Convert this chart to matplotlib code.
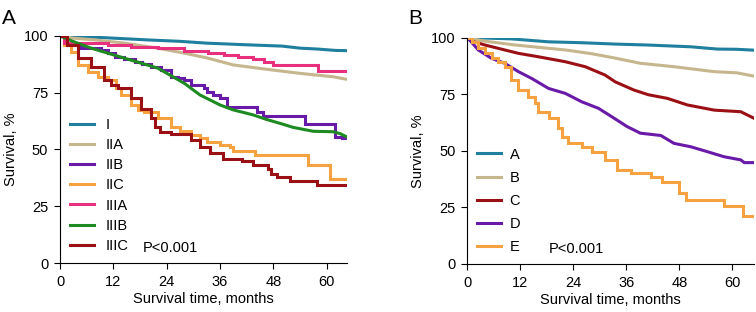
import matplotlib.pyplot as plt

plt.rcParams['font.family'] = ['Liberation Sans', 'DejaVu Sans']

# ---- panel A: stage groups ----
a_labels = ["I", "IIA", "IIB", "IIC", "IIIA", "IIIB", "IIIC"]
a_colors = ["#1f7f9e", "#c5b68d", "#6a1aa8", "#f7a240", "#e8307f", "#1e8a22", "#9a1014"]
# curves with many small events are drawn as lines, sparse ones as steps
a_steps = [False, False, True, True, True, False, True]

t_I = [0, 3, 10, 20, 27, 33, 43, 50, 54, 58, 62, 64.5]
s_I = [100, 99.8, 99.2, 98.2, 97.6, 96.8, 96, 95.5, 94.6, 94.2, 93.6, 93.5]

t_IIA = [0, 3, 8, 14.5, 22, 28, 33.3, 39, 46.5, 54, 61.5, 64.5]
s_IIA = [100, 99, 98.2, 96.8, 94.6, 92.4, 90.2, 87.2, 85.3, 83.5, 82, 80.9]

t_IIB = [0, 0.8, 1.8, 4.8, 9.3, 10.8, 12.3, 14.5, 16.8, 18.5, 20.5, 22.8, 25, 26.5, 28, 29.5,
         32.3, 33, 34.5, 36, 37.5, 44.3, 45.8, 55.1, 61.9, 63.5, 64.5]
s_IIB = [100, 97, 96, 94.6, 93.8, 92.4, 90.9, 89.8, 88.7, 87.6, 86.5, 85, 82, 81.3, 80.6, 78.4,
         76.9, 75.4, 74, 72.5, 68.8, 66.6, 64.7, 61.2, 55.6, 54.9, 54.9]

t_IIC = [0, 1, 2.5, 4, 6.3, 8.5, 10.8, 12.5, 13.8, 16, 17.5, 19, 22, 25, 27, 29.5, 31.5, 33,
         36, 38.3, 39, 43.9, 55.9, 60.8, 64.5]
s_IIC = [100, 96, 93, 87.2, 84.3, 82, 80.6, 77, 74, 69.6, 67.5, 66.6, 63.7, 60, 58, 56.3, 54.9, 53.4,
         52, 51.2, 49.4, 47.5, 43.1, 36.8, 36.8]

t_IIIA = [0, 1, 10.8, 16, 22, 28, 33.3, 36.8, 40, 43.5, 46, 48, 58.1, 64.5]
s_IIIA = [100, 97, 96, 95.3, 94.6, 93.5, 92.4, 91.6, 90.6, 89.7, 88.5, 87.3, 84.7, 84.7]

t_IIIB = [0, 3, 7, 14.5, 22, 28, 31.5, 36, 39, 43.5, 46.5, 49.5, 52.5, 57, 61.5, 63, 64.5]
s_IIIB = [100, 97.5, 94.6, 90.2, 85.8, 79.1, 74, 69.6, 67.4, 65.2, 63.2, 61.5, 59.7, 58, 57.8, 57, 55.6]

t_IIIC = [0, 1.5, 4, 7, 10, 11.5, 13, 16, 18.3, 20.5, 21.3, 22.5, 25, 29.5, 31.5, 33.8, 36.7,
          40.9, 43.5, 46.9, 47.6, 48.8, 51.8, 57.8, 64.5]
s_IIIC = [100, 96, 90.2, 86.5, 80.6, 78.5, 76.9, 72.5, 68, 63.7, 60, 57.8, 57, 54, 51.2, 48.3, 46,
          45, 43.1, 41.6, 39.4, 37.9, 36, 34.5, 34.5]

a_times = [t_I, t_IIA, t_IIB, t_IIC, t_IIIA, t_IIIB, t_IIIC]
a_surv = [s_I, s_IIA, s_IIB, s_IIC, s_IIIA, s_IIIB, s_IIIC]

# ---- panel B: groups A-E ----
b_labels = ["A", "B", "C", "D", "E"]
b_colors = ["#1f7f9e", "#c5b68d", "#9a1014", "#6a1aa8", "#f7a240"]
b_steps = [False, False, False, False, True]

t_A = [0, 5, 10, 18.4, 26, 33.5, 40.7, 50.6, 56.6, 61, 65]
s_A = [100, 99.8, 99.5, 98.2, 97.8, 97.2, 96.8, 96, 95, 94.9, 94.5]

t_B = [0, 4, 10.8, 16, 22.2, 28, 33.5, 39.2, 46.8, 55.9, 61, 65]
s_B = [100, 98.5, 96.8, 95.8, 94.6, 93, 91, 88.7, 87.2, 85, 84.5, 83]

t_C = [0, 1, 4, 8.5, 11.6, 16.1, 22.2, 26.7, 31.2, 33.5, 37.7, 41, 45.3, 49.8, 55.9, 61.9, 64.9]
s_C = [100, 98.5, 96.8, 94.6, 93.1, 91.6, 89.4, 87.2, 83.5, 80.5, 76.9, 74.8, 73.2, 70.3, 68, 67.3, 64.4]

t_D = [0, 1, 2.5, 5.5, 8.5, 11.6, 14.6, 18.4, 22.2, 25.9, 29.7, 32.7, 36.2, 39.2, 43.8, 46.8,
       50.6, 54.4, 58.1, 61.9, 62.7, 65]
s_D = [100, 98, 94.6, 90.9, 88.7, 85, 82, 77.6, 75.4, 71.7, 68.8, 65.1, 60.7, 57.8, 56.8, 53.3,
       51.8, 49.6, 47.4, 46, 44.8, 44.8]

t_E = [0, 1, 2.5, 4, 5.5, 7, 8.5, 10, 11.6, 13.8, 15.4, 16.1, 18.4, 20.6, 21.4, 22.9, 25.9, 28.2,
       31.2, 33.9, 37, 41.5, 44.1, 47.9, 49.4, 58.1, 62.3, 65]
s_E = [100, 98.2, 95.5, 93.1, 91, 89.4, 87.2, 81.3, 76.9, 73.9, 71, 67.3, 64.4, 60, 56.3, 53.3, 51.8, 49.6,
       46, 41.5, 40.1, 38.6, 36.4, 31.2, 28.3, 25.6, 21.2, 21.2]

b_times = [t_A, t_B, t_C, t_D, t_E]
b_surv = [s_A, s_B, s_C, s_D, s_E]


def style(ax, xmax):
    ax.set_xlim(0, xmax)
    ax.set_ylim(0, 100)
    ax.set_xticks([0, 12, 24, 36, 48, 60])
    ax.set_yticks([0, 25, 50, 75, 100])
    for sp in ("top", "right"):
        ax.spines[sp].set_visible(False)
    ax.tick_params(labelsize=10.5, length=4.5, width=0.8, pad=4)
    ax.set_xlabel("Survival time, months", fontsize=10.5, labelpad=2)
    ax.set_ylabel("Survival, %", fontsize=10.5, labelpad=4)


def draw(ax, times, surv, colors, labels, steps):
    for t, s, c, lab, st in zip(times, surv, colors, labels, steps):
        ax.plot(t, s, drawstyle="steps-post" if st else "default",
                color=c, lw=2.2, label=lab, solid_joinstyle="miter")


fig = plt.figure(figsize=(7.56, 3.12), dpi=100)
axA = fig.add_axes([0.0794, 0.157, 0.379, 0.728])
axB = fig.add_axes([0.618, 0.154, 0.380, 0.725])

draw(axA, a_times, a_surv, a_colors, a_labels, a_steps)
style(axA, 64.5)
axA.legend(loc="lower left", bbox_to_anchor=(0.0, 0.0), frameon=False, fontsize=10.5,
           handlelength=1.6, handletextpad=0.8, labelspacing=0.42, borderaxespad=0.3)
axA.text(0.29, 0.065, "P<0.001", transform=axA.transAxes, fontsize=10.5, va="center")

draw(axB, b_times, b_surv, b_colors, b_labels, b_steps)
style(axB, 65)
axB.legend(loc="lower left", bbox_to_anchor=(0.0, 0.0), frameon=False, fontsize=10.5,
           handlelength=1.6, handletextpad=0.6, labelspacing=0.62, borderaxespad=0.3)
axB.text(0.285, 0.065, "P<0.001", transform=axB.transAxes, fontsize=10.5, va="center")

fig.text(0.002, 0.97, "A", fontsize=15, va="top")
fig.text(0.54, 0.97, "B", fontsize=15, va="top")

fig.savefig("out.png", dpi=100)
